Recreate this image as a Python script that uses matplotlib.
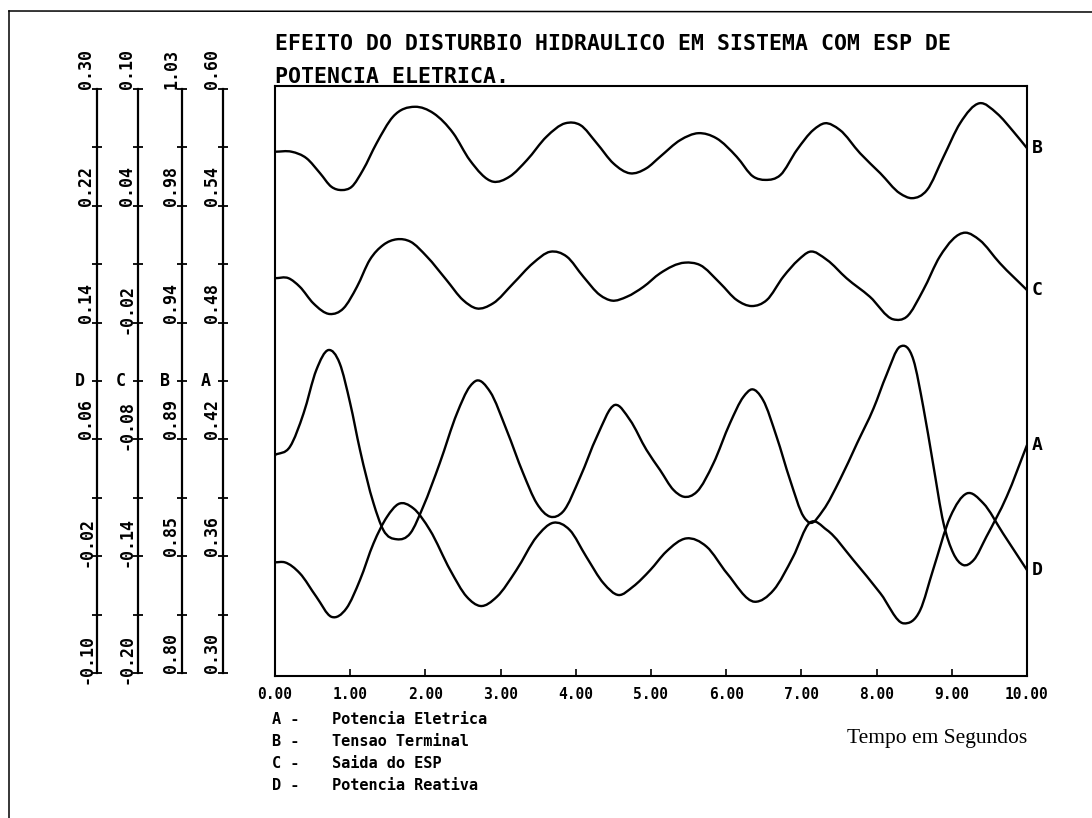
#!/usr/bin/env python3
"""Efeito do disturbio hidraulico em sistema com ESP - redraw of the plotter sheet."""
import matplotlib
matplotlib.use("Agg")
import matplotlib.pyplot as plt
from matplotlib.lines import Line2D
from matplotlib.path import Path
from matplotlib.patches import PathPatch
import numpy as np

W, H = 1092, 818
MONO = "DejaVu Sans Mono"

# ---- traces (time in s, values in each trace's own units)
T_A = [0.00, 0.20, 0.38, 0.55, 0.71, 0.86, 1.00, 1.13, 1.31, 1.44, 1.62, 1.80, 1.97, 2.19,
       2.42, 2.59, 2.68, 2.86, 3.08, 3.30, 3.48, 3.66, 3.83, 4.06, 4.28, 4.52, 4.72, 4.94,
       5.12, 5.30, 5.43, 5.61, 5.83, 6.05, 6.23, 6.34, 6.49, 6.67, 6.85, 7.03, 7.11, 7.29,
       7.51, 7.74, 7.96, 8.13, 8.31, 8.49, 8.62, 8.75, 8.89, 9.02, 9.15, 9.29, 9.46, 9.73, 10.00]
POT_ELETRICA = [0.4120, 0.4163, 0.4334, 0.4557, 0.4659, 0.4591, 0.4385, 0.4146, 0.3872, 0.3735,
                0.3687, 0.3718, 0.3854, 0.4077, 0.4334, 0.4471, 0.4502, 0.4445, 0.4248, 0.4026,
                0.3872, 0.3803, 0.3829, 0.4008, 0.4214, 0.4377, 0.4300, 0.4146, 0.4043, 0.3940,
                0.3906, 0.3931, 0.4077, 0.4283, 0.4419, 0.4457, 0.4402, 0.4214, 0.3991, 0.3803,
                0.3772, 0.3837, 0.3991, 0.4180, 0.4360, 0.4530, 0.4676, 0.4608, 0.4368, 0.4077,
                0.3769, 0.3615, 0.3555, 0.3580, 0.3700, 0.3906, 0.4171]

T_B = [0.00, 0.22, 0.42, 0.60, 0.75, 0.89, 1.02, 1.17, 1.35, 1.57, 1.86, 2.11, 2.37, 2.59,
       2.90, 3.12, 3.35, 3.61, 3.86, 4.06, 4.28, 4.50, 4.72, 4.94, 5.12, 5.39, 5.63,
       5.87, 6.14, 6.36, 6.52, 6.72, 6.94, 7.16, 7.31, 7.51, 7.78, 8.05, 8.31, 8.47, 8.67,
       8.89, 9.11, 9.37, 9.60, 9.82, 10.00]
TENSAO_TERMINAL = [1.0053, 1.0053, 1.0027, 0.9968, 0.9915, 0.9902, 0.9915, 0.9981, 1.0086, 1.0191,
                   1.0230, 1.0204, 1.0126, 1.0020, 0.9935, 0.9955, 1.0020, 1.0112, 1.0165,
                   1.0158, 1.0086, 1.0007, 0.9968, 0.9988, 1.0033, 1.0099, 1.0126, 1.0106, 1.0033,
                   0.9955, 0.9942, 0.9961, 1.0060, 1.0139, 1.0165, 1.0139, 1.0047, 0.9968, 0.9889,
                   0.9870, 0.9902, 1.0033, 1.0165, 1.0244, 1.0204, 1.0132, 1.0067]

T_C = [0.00, 0.18, 0.33, 0.51, 0.73, 0.91, 1.09, 1.26, 1.44, 1.62, 1.80, 2.02, 2.28, 2.50,
       2.68, 2.90, 3.17, 3.43, 3.66, 3.88, 4.10, 4.32, 4.48, 4.68, 4.90, 5.12, 5.45, 5.65,
       5.92, 6.14, 6.34, 6.54, 6.76, 6.96, 7.11, 7.34, 7.60, 7.91, 8.22, 8.40, 8.62, 8.84,
       9.18, 9.37, 9.64, 10.00]
SAIDA_ESP = [0.0028, 0.0028, -0.0016, -0.0101, -0.0156, -0.0127, -0.0016, 0.0122, 0.0199, 0.0228,
             0.0216, 0.0139, 0.0019, -0.0084, -0.0127, -0.0101, 0.0002, 0.0105, 0.0164, 0.0139,
             0.0036, -0.0058, -0.0087, -0.0067, -0.0016, 0.0053, 0.0108, 0.0096, 0.0002, -0.0084,
             -0.0115, -0.0084, 0.0036, 0.0122, 0.0164, 0.0122, 0.0028, -0.0067, -0.0183, -0.0170,
             -0.0033, 0.0139, 0.0262, 0.0224, 0.0105, -0.0033]

T_D = [0.00, 0.13, 0.33, 0.55, 0.75, 0.95, 1.13, 1.31, 1.49, 1.64, 1.84, 2.06, 2.33, 2.55,
       2.73, 2.95, 3.21, 3.48, 3.70, 3.92, 4.14, 4.37, 4.57, 4.76, 4.99, 5.20, 5.47, 5.74,
       6.01, 6.38, 6.63, 6.89, 7.11, 7.34, 7.69, 8.05, 8.36, 8.58, 8.75, 8.98, 9.20, 9.42,
       9.68, 10.00]
POT_REATIVA = [-0.0242, -0.0242, -0.0317, -0.0478, -0.0615, -0.0557, -0.0363, -0.0112, 0.0070, 0.0157,
               0.0128, -0.0021, -0.0295, -0.0478, -0.0541, -0.0478, -0.0295, -0.0067, 0.0029, -0.0021,
               -0.0204, -0.0386, -0.0466, -0.0409, -0.0295, -0.0170, -0.0078, -0.0135, -0.0317, -0.0512,
               -0.0432, -0.0204, 0.0029, -0.0021, -0.0226, -0.0454, -0.0660, -0.0569, -0.0295, 0.0070,
               0.0230, 0.0162, -0.0043, -0.0295]

# ---- the four scales on the left (D, C, B, A from left to right)
SCALE_A = (0.30, 0.60)
SCALE_B = (0.80, 1.03)
SCALE_C = (-0.20, 0.10)
SCALE_D = (-0.10, 0.30)
LABELS_A = ["0.30", "0.36", "0.42", "0.48", "0.54", "0.60"]
LABELS_B = ["0.80", "0.85", "0.89", "0.94", "0.98", "1.03"]
LABELS_C = ["-0.20", "-0.14", "-0.08", "-0.02", "0.04", "0.10"]
LABELS_D = ["-0.10", "-0.02", "0.06", "0.14", "0.22", "0.30"]

X_TICKS = [0, 1, 2, 3, 4, 5, 6, 7, 8, 9, 10]

TITLE_1 = "EFEITO DO DISTURBIO HIDRAULICO EM SISTEMA COM ESP DE"
TITLE_2 = "POTENCIA ELETRICA."
LEGEND = [("A -", "Potencia Eletrica"), ("B -", "Tensao Terminal"),
          ("C -", "Saida do ESP"), ("D -", "Potencia Reativa")]


def rect(x0, y0, x1, y1):
    """pixel box (top-left origin) -> figure fraction rect"""
    return [x0 / W, 1 - y1 / H, (x1 - x0) / W, (y1 - y0) / H]


def fx(x):
    return x / W


def fy(y):
    return 1 - y / H


def smooth_path(t, v):
    """cubic Hermite through the read points (slopes by finite differences), as Bezier segments"""
    t = np.asarray(t, float)
    v = np.asarray(v, float)
    s = np.gradient(v, t)
    verts = [(t[0], v[0])]
    codes = [Path.MOVETO]
    for i in range(len(t) - 1):
        h = t[i + 1] - t[i]
        verts += [(t[i] + h / 3, v[i] + s[i] * h / 3),
                  (t[i + 1] - h / 3, v[i + 1] - s[i + 1] * h / 3),
                  (t[i + 1], v[i + 1])]
        codes += [Path.CURVE4] * 3
    return Path(verts, codes)


fig = plt.figure(figsize=(W / 100, H / 100), dpi=100)
fig.patch.set_facecolor("white")

# page border of the scanned sheet
fig.add_artist(Line2D([fx(9), fx(9)], [0, fy(11)], color="black", lw=1.1))
fig.add_artist(Line2D([fx(9), 1], [fy(11), fy(12)], color="black", lw=1.1))

# main frame with the time axis
ax = fig.add_axes(rect(275, 86, 1027, 676))
ax.set_xlim(0, 10)
ax.set_ylim(0, 1)
ax.set_yticks([])
ax.set_xticks(X_TICKS)
ax.set_xticklabels([f"{t:.2f}" for t in X_TICKS], fontfamily=MONO, fontweight="bold", fontsize=10.5)
ax.tick_params(axis="x", direction="in", length=5, width=1.2, pad=8)
for sp in ax.spines.values():
    sp.set_linewidth(1.5)

# traces, each on its own scale over the same box
traces = [(T_A, POT_ELETRICA, SCALE_A, "A"), (T_B, TENSAO_TERMINAL, SCALE_B, "B"),
          (T_C, SAIDA_ESP, SCALE_C, "C"), (T_D, POT_REATIVA, SCALE_D, "D")]
for t, v, scale, name in traces:
    tax = fig.add_axes(rect(275, 89, 1027, 673))
    tax.set_xlim(0, 10)
    tax.set_ylim(*scale)
    tax.axis("off")
    tax.add_patch(PathPatch(smooth_path(t, v), facecolor="none", edgecolor="black",
                            lw=1.7, joinstyle="round", capstyle="round"))
    tax.annotate(name, xy=(t[-1], v[-1]), xytext=(5, 0), textcoords="offset pixels",
                 ha="left", va="center", fontfamily=MONO, fontweight="bold", fontsize=13,
                 annotation_clip=False)

# the stacked value scales on the left
scales = [(97, SCALE_D, LABELS_D, "D"), (138, SCALE_C, LABELS_C, "C"),
          (182, SCALE_B, LABELS_B, "B"), (223, SCALE_A, LABELS_A, "A")]
for xpix, (lo, hi), labels, name in scales:
    sax = fig.add_axes(rect(xpix, 89, xpix + 1, 673))
    sax.set_ylim(lo, hi)
    sax.patch.set_visible(False)
    for k in ("top", "right", "bottom"):
        sax.spines[k].set_visible(False)
    sax.spines["left"].set_linewidth(1.6)
    sax.set_xticks([])
    sax.set_yticks(np.linspace(lo, hi, 11))
    sax.set_yticklabels([])
    sax.tick_params(axis="y", direction="inout", length=7, width=1.3)
    vals = np.linspace(lo, hi, 6)
    for val, lab in zip(vals, labels):
        dy = -11 if lab.startswith("-") else 0
        sax.annotate(lab, xy=(0, val), xycoords=("axes fraction", "data"),
                     xytext=(-2, dy), textcoords="offset pixels", rotation=90,
                     ha="right", va="bottom", fontfamily=MONO, fontweight="bold", fontsize=12,
                     annotation_clip=False)
    sax.annotate(name, xy=(0, (lo + hi) / 2), xycoords=("axes fraction", "data"),
                 xytext=(-12, 0), textcoords="offset pixels", ha="right", va="center",
                 fontfamily=MONO, fontweight="bold", fontsize=12, annotation_clip=False)

# title
fig.text(fx(275), fy(44), TITLE_1, ha="left", va="center", fontfamily=MONO,
         fontweight="bold", fontsize=15.5)
fig.text(fx(275), fy(77), TITLE_2, ha="left", va="center", fontfamily=MONO,
         fontweight="bold", fontsize=15.5)

# legend block
for i, (key, desc) in enumerate(LEGEND):
    yy = 720 + i * 22
    fig.text(fx(272), fy(yy), key, ha="left", va="center", fontfamily=MONO,
             fontweight="bold", fontsize=11)
    fig.text(fx(332), fy(yy), desc, ha="left", va="center", fontfamily=MONO,
             fontweight="bold", fontsize=11)

fig.text(fx(847), fy(738), "Tempo em Segundos", ha="left", va="center",
         fontfamily="Liberation Serif", fontsize=15.5)

fig.savefig("out.png", dpi=100)
